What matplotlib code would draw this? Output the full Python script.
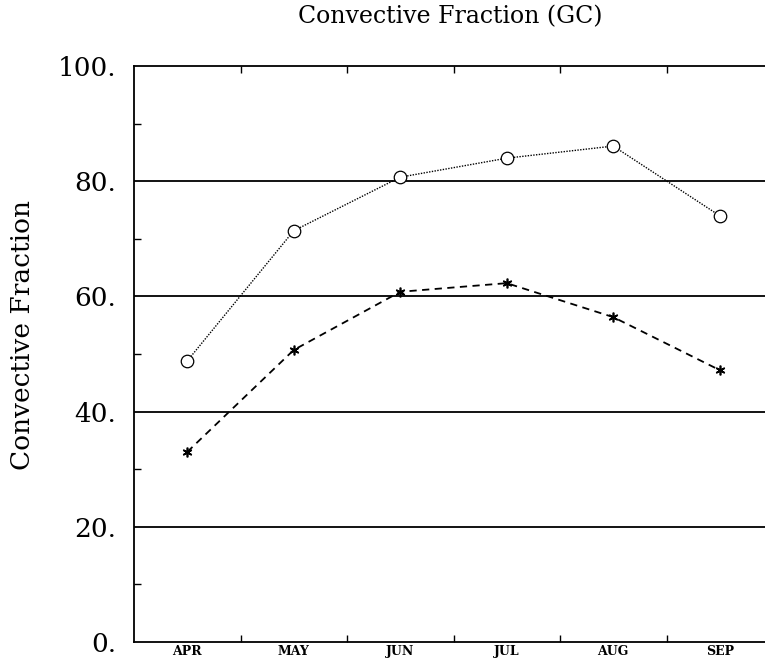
import matplotlib
matplotlib.use("Agg")
import matplotlib.pyplot as plt
import numpy as np
from matplotlib.ticker import FixedLocator

months = ["APR", "MAY", "JUN", "JUL", "AUG", "SEP"]
frac_circle = [48.8, 71.4, 80.7, 84.0, 86.1, 74.0]
frac_star = [33.0, 50.7, 60.8, 62.3, 56.4, 47.2]
ytick_vals = [0, 20, 40, 60, 80, 100]
ytick_labels = ["0.", "20.", "40.", "60.", "80.", "100."]

plt.rcParams["font.family"] = ["DejaVu Serif"]

fig = plt.figure(figsize=(7.65, 6.59), dpi=100)
ax = fig.add_axes([134 / 765, 1 - 642 / 659, (773 - 134) / 765, (642 - 66) / 659])

x = np.arange(len(months)) + 0.5

# horizontal reference lines
for yv in [20, 40, 60, 80]:
    ax.axhline(yv, color="black", lw=1.3, zorder=1)

ax.plot(x, frac_circle, color="black", ls=(0, (1, 1)), lw=1.0, marker="o",
        ms=9, mfc="white", mec="black", mew=0.9, zorder=3)
ax.plot(x, frac_star, color="black", ls=(0, (4, 3)), lw=1.3, marker=(6, 2, 0),
        ms=7, mew=1.2, zorder=3)

ax.set_xlim(0, 6)
ax.set_ylim(0, 100)

ax.xaxis.set_major_locator(FixedLocator([1, 2, 3, 4, 5]))
ax.xaxis.set_minor_locator(FixedLocator(list(x)))
ax.set_xticklabels([], minor=False)
ax.set_xticklabels(months, minor=True, fontsize=9, fontweight="bold")
ax.tick_params(axis="x", which="major", direction="in", length=5, width=1,
               top=True, bottom=True)
ax.tick_params(axis="x", which="minor", length=0, pad=2)

ax.set_yticks(ytick_vals)
ax.set_yticklabels(ytick_labels, fontsize=19)
ax.yaxis.set_minor_locator(FixedLocator([10, 30, 50, 70, 90]))
ax.tick_params(axis="y", which="major", length=0, pad=13)
ax.tick_params(axis="y", which="minor", direction="in", length=5, width=1)

for s in ax.spines.values():
    s.set_linewidth(1.3)

fig.text(23 / 765, 1 - 335 / 659, "Convective Fraction", rotation=90,
         ha="center", va="center", fontsize=19)
fig.text(450 / 765, 1 - 17 / 659, "Convective Fraction (GC)", ha="center",
         va="center", fontsize=17)

fig.savefig("out.png", dpi=100)
